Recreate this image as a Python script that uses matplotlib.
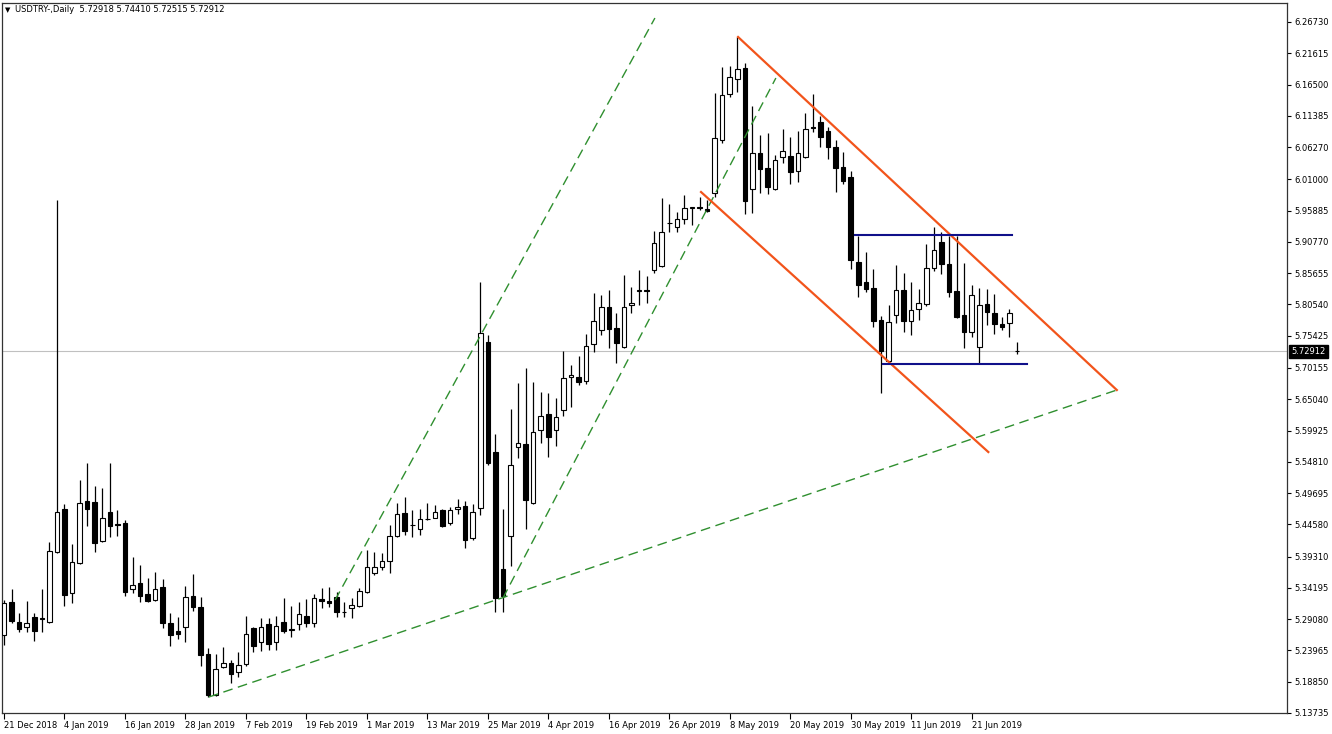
import numpy as np
import matplotlib
matplotlib.use("Agg")
import matplotlib.pyplot as plt

# daily USDTRY candles, 21 Dec 2018 .. 1 Jul 2019 (one entry per bar)
opens = [5.2649, 5.3189, 5.2862, 5.2780, 5.2943, 5.2927, 5.2862, 5.4006, 5.4709, 5.3336,
         5.3826, 5.4840, 5.4824, 5.4186, 5.4660, 5.4464, 5.4480, 5.3401, 5.3499, 5.3320,
         5.3221, 5.3434, 5.2845, 5.2714, 5.2780, 5.3287, 5.3107, 5.2338, 5.1668, 5.2126,
         5.2191, 5.2044, 5.2175, 5.2763, 5.2534, 5.2829, 5.2534, 5.2862, 5.2731, 5.2829,
         5.2960, 5.2845, 5.3238, 5.3205, 5.3270, 5.3025, 5.3091, 5.3123, 5.3352, 5.3663,
         5.3761, 5.3859, 5.4268, 5.4644, 5.4447, 5.4382, 5.4538, 5.4562, 5.4693, 5.4480,
         5.4709, 5.4758, 5.4235, 5.4726, 5.7440, 5.5642, 5.3728, 5.4268, 5.5724, 5.5773,
         5.4808, 5.6001, 5.6263, 5.6001, 5.6328, 5.6868, 5.6868, 5.6803, 5.7407, 5.7636,
         5.8011, 5.7669, 5.7358, 5.8044, 5.8281, 5.8289, 5.8617, 5.8683, 5.9386, 5.9321,
         5.9452, 5.9632, 5.9640, 5.9615, 5.9877, 6.0744, 6.1496, 6.1741, 6.1921, 5.9942,
         6.0531, 6.0286, 5.9942, 6.0466, 6.0482, 6.0237, 6.0466, 6.0956, 6.1038, 6.0891,
         6.0629, 6.0302, 6.0139, 5.8748, 5.8421, 5.8323, 5.7800, 5.7130, 5.7881, 5.8289,
         5.7784, 5.7979, 5.8060, 5.8650, 5.9075, 5.8715, 5.8274, 5.7881, 5.7604, 5.7358,
         5.8060, 5.7913, 5.7734, 5.7751, 5.72918]
highs = [5.3221, 5.3401, 5.3009, 5.3205, 5.3009, 5.3401, 5.4170, 5.9762, 5.4791, 5.4137,
         5.5184, 5.5462, 5.5086, 5.5053, 5.5462, 5.4693, 5.4529, 5.3924, 5.3794, 5.3581,
         5.3679, 5.3565, 5.3009, 5.2943, 5.3450, 5.3646, 5.3270, 5.2437, 5.2338, 5.2453,
         5.2240, 5.2371, 5.2960, 5.2780, 5.2927, 5.2927, 5.2960, 5.3254, 5.3123, 5.3189,
         5.3238, 5.3320, 5.3418, 5.3434, 5.3352, 5.3189, 5.3254, 5.3418, 5.4039, 5.4006,
         5.3990, 5.4447, 5.4808, 5.4906, 5.4693, 5.4709, 5.4808, 5.4775, 5.4709, 5.4742,
         5.4873, 5.4840, 5.4791, 5.8421, 5.7555, 5.5936, 5.4709, 5.6345, 5.6770, 5.7015,
         5.6786, 5.6623, 5.6606, 5.6524, 5.7293, 5.7064, 5.7211, 5.7571, 5.8240, 5.8207,
         5.8289, 5.7913, 5.8534, 5.8338, 5.8616, 5.8518, 5.9255, 5.9795, 5.9697, 5.9566,
         5.9844, 5.9648, 5.9812, 5.9762, 6.1512, 6.1937, 6.1954, 6.2428, 6.2003, 6.1300,
         6.0825, 6.0858, 6.0498, 6.0924, 6.0793, 6.0891, 6.1185, 6.1496, 6.1136, 6.0956,
         6.0744, 6.0547, 6.0237, 5.9174, 5.8912, 5.8634, 5.7865, 5.8044, 5.8699, 5.8568,
         5.8421, 5.8306, 5.9043, 5.9321, 5.9239, 5.9174, 5.9174, 5.8732, 5.8372, 5.8323,
         5.8306, 5.8224, 5.7848, 5.7979, 5.74410]
lows = [5.2485, 5.2845, 5.2698, 5.2698, 5.2551, 5.2698, 5.2845, 5.3990, 5.3123, 5.3172,
        5.3810, 5.4431, 5.4006, 5.4170, 5.4251, 5.4268, 5.3287, 5.3336, 5.3189, 5.3189,
        5.3205, 5.2763, 5.2469, 5.2583, 5.2534, 5.3042, 5.2142, 5.1635, 5.1652, 5.2109,
        5.1864, 5.1962, 5.2142, 5.2371, 5.2387, 5.2404, 5.2404, 5.2682, 5.2616, 5.2731,
        5.2780, 5.2780, 5.3091, 5.3107, 5.2943, 5.2943, 5.2927, 5.3107, 5.3340, 5.3630,
        5.3712, 5.3663, 5.4251, 5.4284, 5.4251, 5.4284, 5.4529, 5.4555, 5.4415, 5.4447,
        5.4628, 5.4072, 5.4202, 5.4611, 5.5429, 5.3025, 5.3025, 5.3777, 5.5544, 5.4382,
        5.4790, 5.5789, 5.5560, 5.5740, 5.6230, 5.6377, 5.6737, 5.6754, 5.7277, 5.7555,
        5.7342, 5.7097, 5.7342, 5.7913, 5.8044, 5.8077, 5.8568, 5.8666, 5.9239, 5.9239,
        5.9370, 5.9354, 5.9599, 5.9566, 5.9812, 6.0695, 6.1447, 6.1528, 5.9533, 5.9550,
        5.9877, 5.9861, 5.9926, 6.0367, 6.0024, 6.0057, 6.0449, 6.0874, 6.0629, 6.0433,
        5.9893, 6.0024, 5.8634, 5.8176, 5.8257, 5.7686, 5.6606, 5.7113, 5.7751, 5.7604,
        5.7555, 5.7800, 5.8028, 5.8601, 5.8552, 5.8176, 5.7840, 5.7342, 5.7522, 5.7097,
        5.7718, 5.7571, 5.7636, 5.7522, 5.72515]
closes = [5.3172, 5.2878, 5.2747, 5.2845, 5.2714, 5.2910, 5.4023, 5.4660, 5.3303, 5.3843,
          5.4808, 5.4709, 5.4154, 5.4562, 5.4431, 5.4455, 5.3352, 5.3467, 5.3287, 5.3205,
          5.3401, 5.2845, 5.2649, 5.2665, 5.3270, 5.3107, 5.2322, 5.1668, 5.2093, 5.2191,
          5.2011, 5.2158, 5.2665, 5.2469, 5.2780, 5.2502, 5.2796, 5.2714, 5.2740, 5.2992,
          5.2845, 5.3254, 5.3205, 5.3172, 5.3025, 5.3033, 5.3139, 5.3369, 5.3761, 5.3761,
          5.3859, 5.4268, 5.4628, 5.4350, 5.4455, 5.4546, 5.4546, 5.4660, 5.4431, 5.4693,
          5.4742, 5.4202, 5.4660, 5.7587, 5.5462, 5.3254, 5.3287, 5.5429, 5.5789, 5.4857,
          5.5969, 5.6230, 5.5887, 5.6214, 5.6852, 5.6901, 5.6786, 5.7375, 5.7784, 5.8011,
          5.7653, 5.7424, 5.8011, 5.8077, 5.8297, 5.8281, 5.9059, 5.9239, 5.9394, 5.9452,
          5.9632, 5.9640, 5.9632, 5.9583, 6.0776, 6.1479, 6.1774, 6.1905, 5.9746, 6.0531,
          6.0269, 5.9975, 6.0417, 6.0564, 6.0220, 6.0531, 6.0924, 6.0940, 6.0793, 6.0629,
          6.0286, 6.0073, 5.8781, 5.8372, 5.8306, 5.7784, 5.7293, 5.7767, 5.8289, 5.7784,
          5.7963, 5.8077, 5.8650, 5.8944, 5.8715, 5.8257, 5.7848, 5.7604, 5.8208, 5.8044,
          5.7930, 5.7734, 5.7686, 5.7913, 5.72912]

# axis labels as shown by the terminal
price_ticks = [6.26730, 6.21615, 6.16500, 6.11385, 6.06270, 6.01000, 5.95885, 5.90770,
               5.85655, 5.80540, 5.75425, 5.70155, 5.65040, 5.59925, 5.54810, 5.49695,
               5.44580, 5.39310, 5.34195, 5.29080, 5.23965, 5.18850, 5.13735]
date_tick_bars = [0, 8, 16, 24, 32, 40, 48, 56, 64, 72, 80, 88, 96, 104, 112, 120, 128]
date_labels = ["21 Dec 2018", "4 Jan 2019", "16 Jan 2019", "28 Jan 2019", "7 Feb 2019",
               "19 Feb 2019", "1 Mar 2019", "13 Mar 2019", "25 Mar 2019", "4 Apr 2019",
               "16 Apr 2019", "26 Apr 2019", "8 May 2019", "20 May 2019", "30 May 2019",
               "11 Jun 2019", "21 Jun 2019"]
last_price = 5.72912

# drawn objects: bar index / price end points
green_x = [[27.1, 147.2], [43.8, 86.1], [66.0, 102.1]]
green_y = [[5.1635, 5.6655], [5.3221, 6.2738], [5.3254, 6.1757]]
orange_x = [[97.1, 147.2], [92.2, 130.2]]
orange_y = [[6.2428, 5.6655], [5.9893, 5.5641]]
blue_x = [[112.6, 133.3], [116.3, 135.3]]
blue_y = [[5.9190, 5.9190], [5.7080, 5.7080]]


def draw_candles(ax, o, h, l, c):
    o, h, l, c = map(np.asarray, (o, h, l, c))
    idx = np.arange(len(o))
    ax.vlines(idx, l, h, color="black", lw=0.9, zorder=2)
    up = c >= o
    body = np.maximum(np.abs(c - o), 0.0004)
    bottom = np.minimum(o, c)
    ax.bar(idx[up], body[up], bottom=bottom[up], width=0.6, facecolor="white",
           edgecolor="black", lw=0.8, zorder=3)
    ax.bar(idx[~up], body[~up], bottom=bottom[~up], width=0.6, facecolor="black",
           edgecolor="black", lw=0.8, zorder=3)


fig = plt.figure(figsize=(13.32, 7.34), dpi=100)
W, H = 1332., 734.
ax = fig.add_axes([2 / W, (H - 713) / H, 1285 / W, 710 / H])

k = (6.26730 - 5.13735) / 691.
ax.set_ylim(5.13735, 6.26730 + 19 * k)
ax.set_xlim((2 - 4) / 7.56, (1287 - 4) / 7.56)

ax.axhline(last_price, color="#c0c0c0", lw=0.8, zorder=1)
draw_candles(ax, opens, highs, lows, closes)

for xs, ys in zip(green_x, green_y):
    ax.plot(xs, ys, color="#2f8f2f", lw=1.0, linestyle=(0, (7, 4)), zorder=4)
for xs, ys in zip(orange_x, orange_y):
    ax.plot(xs, ys, color="#f2541b", lw=1.6, zorder=4)
for xs, ys in zip(blue_x, blue_y):
    ax.plot(xs, ys, color="#10108a", lw=1.5, zorder=4)

ax.yaxis.tick_right()
ax.set_yticks(price_ticks)
ax.set_yticklabels(["%.5f" % p for p in price_ticks])
ax.tick_params(axis="y", direction="out", length=3, pad=2, labelsize=6, colors="black")
ax.set_xticks(date_tick_bars)
ax.set_xticklabels(date_labels)
ax.tick_params(axis="x", direction="out", length=4, pad=2, labelsize=6, colors="black")
for lbl in ax.get_xticklabels():
    lbl.set_horizontalalignment("left")

for s in ax.spines.values():
    s.set_color("#333333")
    s.set_linewidth(0.9)

# current price box on the scale
ax.annotate("%.5f" % last_price, xy=(1.0, last_price), xycoords=("axes fraction", "data"),
            xytext=(3, 0), textcoords="offset points", ha="left", va="center",
            fontsize=6, color="white",
            bbox=dict(boxstyle="square,pad=0.25", fc="black", ec="black"))

fig.text(5 / W, 1 - 10 / H, "\u25bc", fontsize=5, va="center", ha="left")
fig.text(15 / W, 1 - 10 / H, "USDTRY-,Daily  5.72918 5.74410 5.72515 5.72912",
         fontsize=6, va="center", ha="left")

fig.savefig("out.png", dpi=100)
